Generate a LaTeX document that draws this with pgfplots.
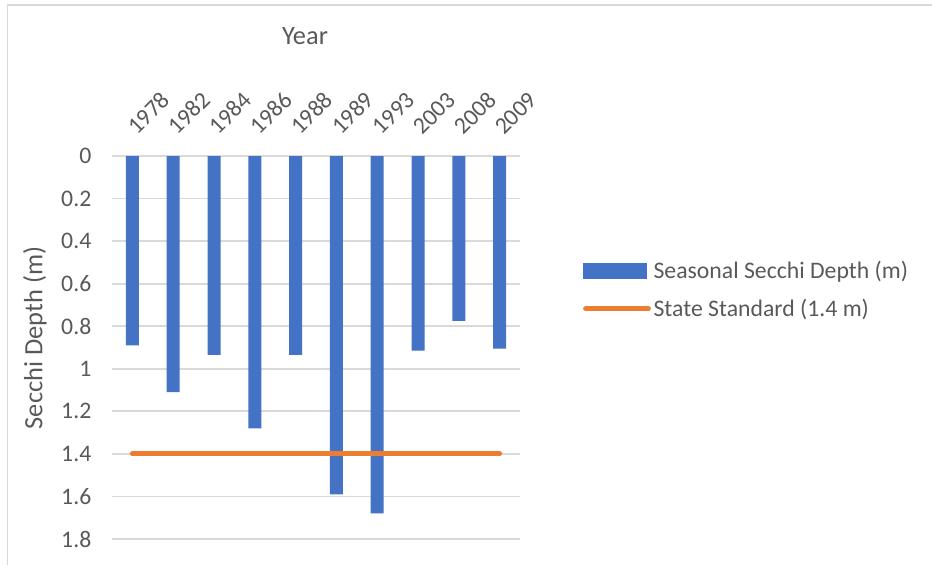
\documentclass[border=0pt]{standalone}
\usepackage{pgfplots}
\pgfplotsset{compat=1.18}
\usepackage{fontspec}
\setmainfont{Carlito}
\definecolor{barblue}{HTML}{4472C4}
\definecolor{stdorange}{HTML}{ED7D31}
\definecolor{txtgray}{HTML}{595959}
\definecolor{gridgray}{HTML}{D9D9D9}
\newcommand\chartfont{\fontsize{17.8}{20}\selectfont\color{txtgray}}
\newcommand\titlefont{\fontsize{19.8}{22}\selectfont\color{txtgray}}
\begin{document}
\begin{tikzpicture}
% chart frame (only its top and left edges are in view)
\path[use as bounding box] (0pt,0pt) rectangle (699pt,423.75pt);
\draw[gridgray, line width=1.1pt] (5.6pt,0pt) -- (5.6pt,420pt) -- (699pt,420pt);
\begin{axis}[
  at={(84pt,19.5pt)}, anchor=south west,
  scale only axis, width=306pt, height=287.25pt,
  xmin=-0.5, xmax=9.5, ymin=0, ymax=1.8, y dir=reverse,
  xtick={0,1,2,3,4,5,6,7,8,9},
  xticklabels={1978,1982,1984,1986,1988,1989,1993,2003,2008,2009},
  xticklabel pos=upper,
  xticklabel style={font=\chartfont, rotate=45, anchor=south west, xshift=9.7pt, yshift=4.5pt},
  ytick={0,0.2,0.4,0.6,0.8,1,1.2,1.4,1.6,1.8},
  yticklabels={0,0.2,0.4,0.6,0.8,1,1.2,1.4,1.6,1.8},
  yticklabel style={font=\chartfont, anchor=east, xshift=-12pt},
  major tick length=0pt,
  axis line style={draw=none},
  ymajorgrids, grid style={gridgray, line width=1.3pt},
  ylabel={Secchi Depth (m)},
  ylabel style={font=\titlefont, at={(axis description cs:-0.189,0.525)}, anchor=center},
  clip=false,
  legend style={at={(1.154,0.651)}, anchor=west, draw=none, fill=none,
    font=\chartfont, row sep=10pt, inner sep=0pt},
  legend cell align=left,
]
\addplot[ybar, bar width=9.75pt, bar shift=0pt, fill=barblue, draw=none,
  legend image code/.code={\fill[barblue] (0pt,-6pt) rectangle (48pt,6pt);}]
  coordinates {(0,0.89) (1,1.11) (2,0.935) (3,1.28) (4,0.935)
               (5,1.59) (6,1.68) (7,0.915) (8,0.775) (9,0.905)};
\addlegendentry{Seasonal Secchi Depth (m)}
\addplot[stdorange, line width=3.75pt, line cap=round, mark=none,
  legend image code/.code={\draw[stdorange, line width=3.75pt, line cap=round] (1.9pt,0pt) -- (49pt,0pt);}]
  coordinates {(0,1.4) (9,1.4)};
\addlegendentry{State Standard (1.4 m)}
\node[font=\titlefont, anchor=center] at (axis description cs:0.473,1.313) {Year};
\end{axis}
\end{tikzpicture}
\end{document}
